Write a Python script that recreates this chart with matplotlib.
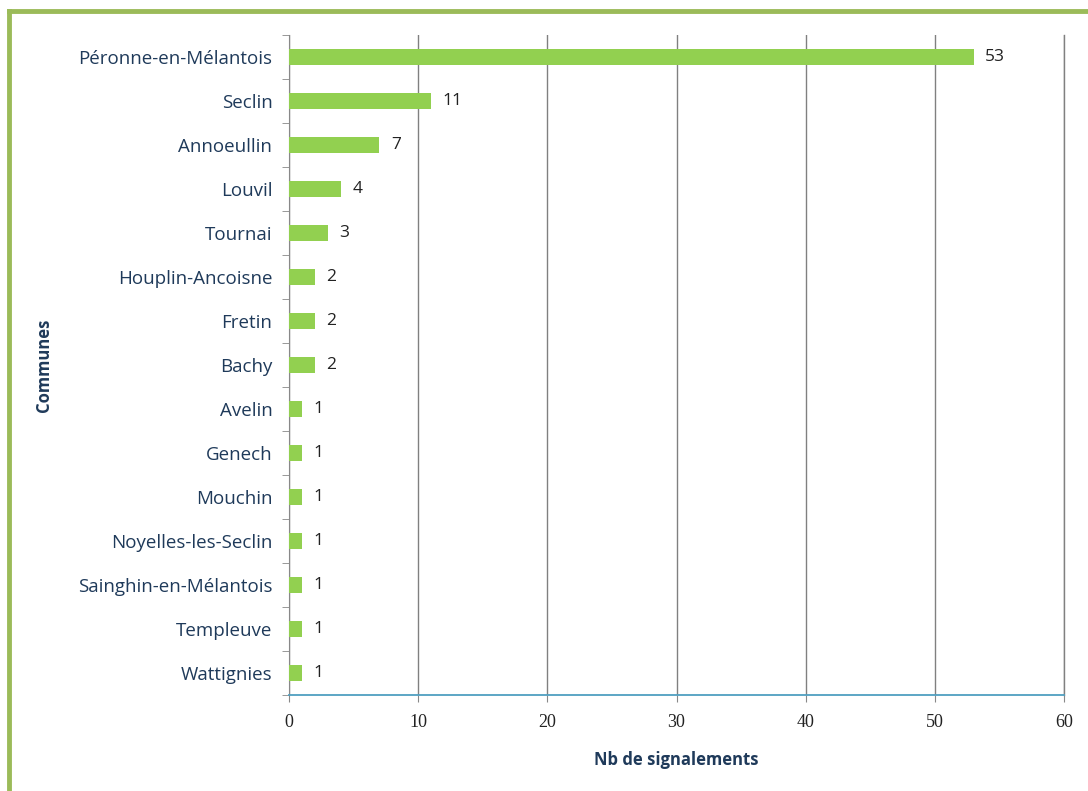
import matplotlib.pyplot as plt
from matplotlib.lines import Line2D

communes = ["Péronne-en-Mélantois", "Seclin", "Annoeullin", "Louvil", "Tournai",
            "Houplin-Ancoisne", "Fretin", "Bachy", "Avelin", "Genech", "Mouchin",
            "Noyelles-les-Seclin", "Sainghin-en-Mélantois", "Templeuve", "Wattignies"]
signalements = [53, 11, 7, 4, 3, 2, 2, 2, 1, 1, 1, 1, 1, 1, 1]
xticks = [0, 10, 20, 30, 40, 50, 60]

txt = "#1f3a5a"
plt.rcParams['font.family'] = ['Open Sans', 'DejaVu Sans']

fig = plt.figure(figsize=(10.88, 7.91), dpi=100)
ax = fig.add_axes([289 / 1088, 1 - 695 / 791, (1064 - 289) / 1088, 660 / 791])

ypos = list(range(len(communes)))[::-1]
ax.barh(ypos, signalements, height=0.38, color="#92d050", zorder=3)
for y, v in zip(ypos, signalements):
    ax.text(v + 0.9, y, str(v), va="center", ha="left", fontsize=12.5, color="#222222")

ax.set_xlim(0, 60)
ax.set_ylim(-0.5, len(communes) - 0.5)
ax.set_xticks(xticks)
ax.set_xticklabels([str(t) for t in xticks], fontsize=13, color="#222222",
                   family=["Liberation Serif", "DejaVu Serif"])
ax.set_yticks(ypos)
ax.set_yticklabels(communes, fontsize=13.5, color=txt)
ax.set_yticks([i + 0.5 for i in range(-1, len(communes))], minor=True)
ax.tick_params(axis="y", which="major", length=0, pad=12)
ax.tick_params(axis="y", which="minor", length=5, color="#888888")
ax.tick_params(axis="x", length=5, color="#888888", pad=9)

ax.grid(axis="x", color="#808080", linewidth=1, zorder=0)
ax.axvline(60, color="#808080", linewidth=1, clip_on=False, zorder=0)
for s in ["top", "right"]:
    ax.spines[s].set_visible(False)
ax.spines["left"].set_color("#888888")
ax.spines["bottom"].set_color("#4f9fc0")
ax.spines["bottom"].set_linewidth(1.3)
ax.spines["bottom"].set_zorder(4)

ax.set_xlabel("Nb de signalements", fontsize=12, fontweight="bold", color=txt, labelpad=14)
ax.set_ylabel("Communes", fontsize=12, fontweight="bold", color=txt)
ax.yaxis.set_label_coords(-0.305, 0.5)

# green frame (top and left only, rest cropped)
fig.add_artist(Line2D([9 / 1088, 9 / 1088], [0, 1 - 11 / 791], transform=fig.transFigure,
                      color="#9bbb59", linewidth=3.5))
fig.add_artist(Line2D([9 / 1088, 1], [1 - 11 / 791, 1 - 11 / 791], transform=fig.transFigure,
                      color="#9bbb59", linewidth=3.5))

fig.savefig("out.png", dpi=100)
